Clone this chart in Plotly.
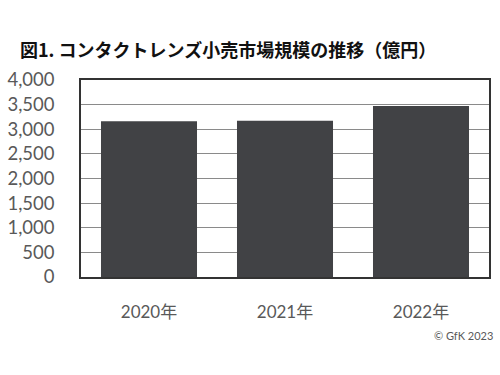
import plotly.graph_objects as go

categories = ["2020年", "2021年", "2022年"]
values = [3160, 3175, 3470]
y_ticks = [0, 500, 1000, 1500, 2000, 2500, 3000, 3500, 4000]
y_tick_labels = ["0", "500", "1,000", "1,500", "2,000", "2,500", "3,000", "3,500", "4,000"]

fig = go.Figure(go.Bar(x=categories, y=values, marker=dict(color="#414245", line=dict(width=0))))

fig.update_layout(
    width=500, height=375,
    margin=dict(l=81, r=11, t=80, b=97.5),
    paper_bgcolor="white", plot_bgcolor="white",
    bargap=0.294,
    showlegend=False,
    font=dict(family="Lato, Noto Sans CJK JP", color="#595959"),
    title=dict(text="<b>図1. コンタクトレンズ小売市場規模の推移（億円）</b>",
               x=20 / 500, xanchor="left", y=1 - 51 / 375, yanchor="middle",
               font=dict(family="Noto Sans CJK JP", size=18, color="#111111")),
    annotations=[dict(text="© GfK 2023", xref="paper", yref="paper", x=(495 - 81) / 408,
                      y=(277.5 - 336) / 197.5,
                      xanchor="right", yanchor="middle",
                      showarrow=False, font=dict(size=11, color="#595959"))],
)

fig.update_yaxes(range=[0, 4000], tickvals=y_ticks, ticktext=y_tick_labels,
                 showgrid=True, gridcolor="#8a8a8a", gridwidth=1.3,
                 showline=True, linecolor="#333333", linewidth=1.5, mirror=True,
                 ticks="", ticklabelstandoff=21, tickfont=dict(size=18.5, color="#595959"),
                 zeroline=False, automargin=False)
fig.update_xaxes(showline=True, linecolor="#333333", linewidth=1.5, mirror=True,
                 ticks="", ticklabelstandoff=19, tickfont=dict(size=17, color="#595959"),
                 automargin=False)

fig.write_html("out.html", config={"displayModeBar": False},
               post_script="document.body.style.margin='0px';")
